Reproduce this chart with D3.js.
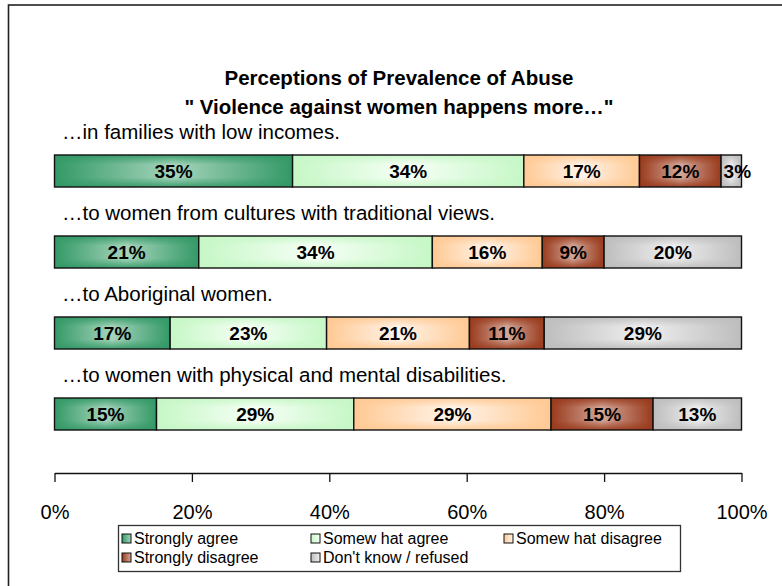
<!DOCTYPE html>
<html>
<head>
<meta charset="utf-8">
<script src="https://cdn.jsdelivr.net/npm/d3@7"></script>
<style>
  html, body { margin: 0; padding: 0; background: #fff; }
  svg { display: block; font-family: "Liberation Sans", Arial, sans-serif; }
</style>
</head>
<body>
<svg id="chart" width="782" height="586"></svg>
<script>
// ---- data ----
const titleLines = ["Perceptions of Prevalence of Abuse", "\" Violence against women happens more\u2026\""];
const categories = [
  "\u2026in families with low incomes.",
  "\u2026to women from cultures with traditional views.",
  "\u2026to Aboriginal women.",
  "\u2026to women with physical and mental disabilities."
];
const seriesNames = ["Strongly agree", "Somew hat agree", "Somew hat disagree", "Strongly disagree", "Don't know  / refused"];
const stronglyAgree    = [35, 21, 17, 15];
const somewhatAgree    = [34, 34, 23, 29];
const somewhatDisagree = [17, 16, 21, 29];
const stronglyDisagree = [12, 9, 11, 15];
const dontKnow         = [3, 20, 29, 13];
const tickValues = [0, 0.2, 0.4, 0.6, 0.8, 1.0];

// ---- styling ----
const edgeColors   = ["#339966", "#c6f7c6", "#ffc993", "#993a1c", "#bdbdbd"];
const centerColors = ["#a6d4bc", "#f6fff6", "#fff4ea", "#d4a89a", "#efefef"];

const svg = d3.select("#chart");

// frame (extends off the right/bottom edge)
svg.append("rect").attr("x", 8.5).attr("y", 5).attr("width", 800).attr("height", 620)
  .attr("fill", "#fff").attr("stroke", "#222").attr("stroke-width", 1.6);

// gradients
const defs = svg.append("defs");
edgeColors.forEach((c, i) => {
  const gh = defs.append("linearGradient").attr("id", "gh" + i)
    .attr("x1", "0%").attr("x2", "100%").attr("y1", "0%").attr("y2", "0%");
  gh.append("stop").attr("offset", "0%").attr("stop-color", c);
  gh.append("stop").attr("offset", "50%").attr("stop-color", centerColors[i]);
  gh.append("stop").attr("offset", "100%").attr("stop-color", c);
  const gv = defs.append("linearGradient").attr("id", "gv" + i)
    .attr("x1", "0%").attr("x2", "0%").attr("y1", "0%").attr("y2", "100%");
  gv.append("stop").attr("offset", "0%").attr("stop-color", c).attr("stop-opacity", 0.9);
  gv.append("stop").attr("offset", "30%").attr("stop-color", c).attr("stop-opacity", 0);
  gv.append("stop").attr("offset", "70%").attr("stop-color", c).attr("stop-opacity", 0);
  gv.append("stop").attr("offset", "100%").attr("stop-color", c).attr("stop-opacity", 0.9);
  const gl = defs.append("linearGradient").attr("id", "gl" + i)
    .attr("x1", "0%").attr("x2", "100%");
  gl.append("stop").attr("offset", "0%").attr("stop-color", c);
  gl.append("stop").attr("offset", "100%").attr("stop-color", centerColors[i]);
});

// title
svg.append("g").selectAll("text").data(titleLines).join("text")
  .attr("x", 399).attr("y", (d, i) => 85 + i * 29)
  .attr("text-anchor", "middle")
  .attr("font-weight", "bold").attr("font-size", 20.5)
  .attr("fill", "#000").text(d => d);

// data table
const table = categories.map((c, i) => ({
  cat: c,
  s0: stronglyAgree[i], s1: somewhatAgree[i], s2: somewhatDisagree[i],
  s3: stronglyDisagree[i], s4: dontKnow[i]
}));
const keys = ["s0", "s1", "s2", "s3", "s4"];
const stacked = d3.stack().keys(keys).offset(d3.stackOffsetExpand)(table);

const x = d3.scaleLinear().domain([0, 1]).range([54.5, 741.5]);
const y = d3.scalePoint().domain(categories).range([155, 398]);
const barH = 32;

// row labels
svg.append("g").selectAll("text").data(categories).join("text")
  .attr("x", 62).attr("y", c => y(c) - 16)
  .attr("font-size", 20.5).attr("fill", "#000").text(c => c);

// bars
const segs = svg.append("g");
stacked.forEach((layer, si) => {
  const g = segs.append("g");
  layer.forEach((d, ri) => {
    const cat = categories[ri];
    const x0 = x(d[0]), x1 = x(d[1]);
    const yy = y(cat);
    g.append("rect").attr("x", x0).attr("y", yy).attr("width", x1 - x0).attr("height", barH)
      .attr("fill", `url(#gh${si})`);
    g.append("rect").attr("x", x0).attr("y", yy).attr("width", x1 - x0).attr("height", barH)
      .attr("fill", `url(#gv${si})`).attr("stroke", "#111").attr("stroke-width", 1.4);
    const val = table[ri][keys[si]];
    g.append("text").attr("x", (x0 + x1) / 2 + (val < 5 ? 6 : 0)).attr("y", yy + barH / 2 + 7)
      .attr("text-anchor", "middle").attr("font-weight", "bold").attr("font-size", 19)
      .attr("fill", "#000").text(val + "%");
  });
});

// axis
const axis = d3.axisBottom(x).tickValues(tickValues).tickFormat(d3.format(".0%")).tickSize(9).tickSizeOuter(0);
const ag = svg.append("g").attr("transform", "translate(0,473)").call(axis);
ag.select(".domain").attr("stroke", "#111").attr("stroke-width", 1.3);
ag.selectAll(".tick line").attr("stroke", "#111").attr("stroke-width", 1.3);
ag.selectAll(".tick text").attr("font-size", 20).attr("font-family", "Liberation Sans, Arial, sans-serif")
  .attr("fill", "#000").attr("dy", "0").attr("y", 46);

// legend
const lg = svg.append("g");
lg.append("rect").attr("x", 118.5).attr("y", 525.5).attr("width", 562).attr("height", 46)
  .attr("fill", "#fff").attr("stroke", "#333").attr("stroke-width", 1.3);
const colX = [122, 311, 504];
seriesNames.forEach((n, i) => {
  const cx = colX[i % 3], cy = i < 3 ? 538 : 557;
  lg.append("rect").attr("x", cx).attr("y", cy - 4).attr("width", 9).attr("height", 9)
    .attr("fill", `url(#gl${i})`).attr("stroke", "#111").attr("stroke-width", 1);
  lg.append("text").attr("x", cx + 12).attr("y", cy + 5.5)
    .attr("font-size", 16).attr("fill", "#000").text(n);
});
</script>
</body>
</html>
